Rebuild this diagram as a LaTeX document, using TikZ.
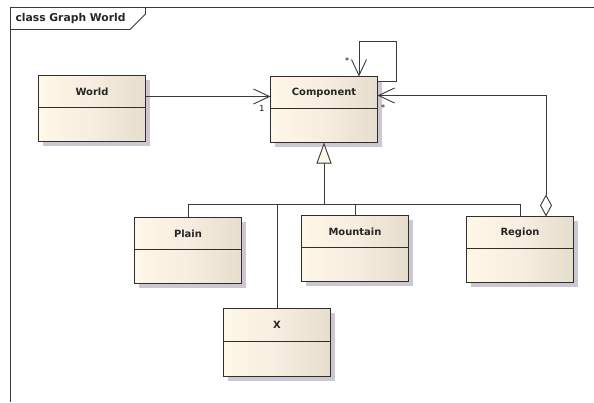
\documentclass[tikz,border=0pt]{standalone}
\usepackage{fontspec}
\setmainfont{DejaVu Sans}
\usetikzlibrary{arrows.meta,shadows,calc}

\definecolor{creamL}{HTML}{FFF7E7}
\definecolor{creamM}{HTML}{F7EDE0}
\definecolor{creamR}{HTML}{E6DDCD}
\definecolor{shadowc}{HTML}{CDC6D3}
\definecolor{edgec}{HTML}{2E2E2E}
\definecolor{linkc}{HTML}{3A3A3A}

\tikzset{
  umlclass/.style={
    rectangle, draw=edgec, line width=1.1bp,
    minimum width=107bp, minimum height=66bp, inner sep=0pt, outer sep=0pt,
    left color=creamL, right color=creamR, middle color=creamM,
    drop shadow={shadow xshift=4bp, shadow yshift=-4bp, fill=shadowc, opacity=1}
  },
  classname/.style={font=\fontsize{10}{12}\selectfont\bfseries, text=black!85},
  divider/.style={draw=edgec, line width=1.1bp},
  link/.style={draw=linkc, line width=0.9bp},
  assoc/.style={link, -{Straight Barb[length=16bp, width=15bp, line width=0.9bp]}},
  gen/.style={link, -{Triangle[open, length=21bp, width=15bp, fill=creamL, line width=0.9bp]}},
  aggr/.style={link, {Diamond[open, length=22bp, width=12bp, fill=white, line width=0.9bp]}-{Straight Barb[length=16bp, width=15bp, line width=0.9bp]}},
  mult/.style={font=\fontsize{8}{9}\selectfont, text=black, inner sep=0pt},
  framec/.style={draw=linkc, line width=0.9bp}
}

% a class box: name in the upper compartment, empty lower compartment
\newcommand{\umlbox}[3]{%
  \node[umlclass] (#1) at (#2) {};
  \node[classname] (#1-name) at ($(#1.north)+(0,16)$) {#3};
  \draw[divider] ($(#1.north west)+(0,32)$) -- ($(#1.north east)+(0,32)$);
}

\begin{document}
\begin{tikzpicture}[x=1bp, y=-1bp]
  \useasboundingbox (0,0) rectangle (594,402);
  \fill[white] (0,0) rectangle (594,402);

  % diagram frame with its name tab
  \draw[framec] (594,7.5) -- (10.5,7.5) -- (10.5,402);
  \draw[framec] (10.5,29.5) -- (130,29.5) -- (145.5,14) -- (145.5,7.5);
  \node[classname, font=\fontsize{10.8}{12}\selectfont\bfseries, anchor=west] (title) at (12,18.5) {class Graph World};

  % classes
  \umlbox{world}{92,108.5}{World}
  \umlbox{comp}{324,109.5}{Component}
  \umlbox{plain}{188,250.5}{Plain}
  \umlbox{mountain}{355,248.5}{Mountain}
  \umlbox{region}{520,249.5}{Region}
  \node[umlclass, minimum height=68bp] (x) at (277,342.5) {};
  \node[classname] (x-name) at ($(x.north)+(0,16.5)$) {X};
  \draw[divider] ($(x.north west)+(0,33)$) -- ($(x.north east)+(0,33)$);

  % World -> Component
  \draw[assoc] ([yshift=12bp]world.east) -- ([yshift=12bp]world.east -| comp.west);
  \node[mult] (m-one) at (262,109) {1};

  % Component self association
  \draw[assoc] ($(comp.north east)+(0,5)$) -- ++(19,0) |- ($(comp.north)+(35,-35)$) -- ($(comp.north)+(35,0)$);
  \node[mult] (m-self) at (347,61) {*};

  % Region aggregates Components
  \draw[aggr] ($(region.north)+(26,0)$) |- ([yshift=14bp]comp.east);
  \node[mult] (m-region) at (383,108) {*};

  % generalization tree
  \coordinate (gj) at ($(comp.south)+(0,61.5)$);
  \draw[gen] (gj) -- (comp.south);
  \draw[link] (plain.north) |- (region.north |- gj) -- (region.north);
  \draw[link] (mountain.north) -- (mountain.north |- gj);
  \draw[link] (x.north) -- (x.north |- gj);
\end{tikzpicture}
\end{document}
